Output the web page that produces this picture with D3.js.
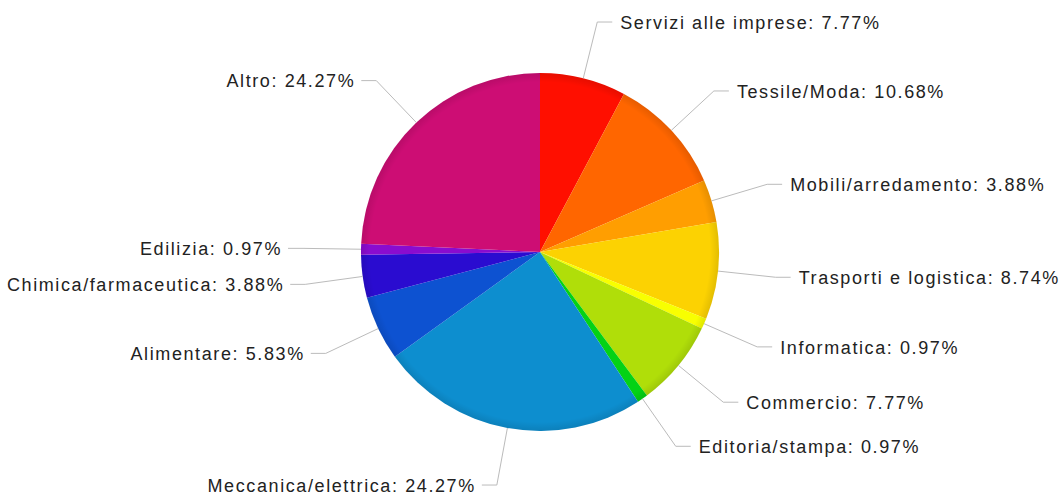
<!DOCTYPE html>
<html>
<head>
<meta charset="utf-8">
<script src="https://cdn.jsdelivr.net/npm/d3@7"></script>
<style>
  html, body { margin: 0; padding: 0; background: #fff; }
  svg { display: block; }
  .lbl { font-family: "Liberation Sans", Arial, sans-serif; font-size: 18px; letter-spacing: 1.6px; fill: #222; }
</style>
</head>
<body>
<svg id="chart" width="1062" height="496"></svg>
<script>
// Settori (percentuali)
const categories = [
  "Servizi alle imprese", "Tessile/Moda", "Mobili/arredamento", "Trasporti e logistica",
  "Informatica", "Commercio", "Editoria/stampa", "Meccanica/elettrica",
  "Alimentare", "Chimica/farmaceutica", "Edilizia", "Altro"
];
const values = [7.77, 10.68, 3.88, 8.74, 0.97, 7.77, 0.97, 24.27, 5.83, 3.88, 0.97, 24.27];
const colors = [
  "#FF0F00", "#FF6600", "#FF9E01", "#FCD202", "#F8FF01", "#B0DE09",
  "#04D215", "#0D8ECF", "#0D52D1", "#2A0CD0", "#8A0CCF", "#CD0D74"
];

const data = categories.map((c, i) => ({ name: c, value: values[i], color: colors[i] }));

const svg = d3.select("#chart");
const cx = 540, cy = 252, radius = 179;
const elbowR = 237;

const g = svg.append("g").attr("transform", `translate(${cx},${cy})`);

const pie = d3.pie().value(d => d.value).sort(null);
const arcs = pie(data);
const arc = d3.arc().innerRadius(0).outerRadius(radius);

// Spicchi
g.selectAll("path.slice")
  .data(arcs)
  .enter().append("path")
  .attr("class", "slice")
  .attr("d", arc)
  .attr("fill", d => d.data.color);

// Leggera ombreggiatura sul bordo
const defs = svg.append("defs");
const rg = defs.append("radialGradient").attr("id", "rim")
  .attr("cx", "50%").attr("cy", "50%").attr("r", "50%");
rg.append("stop").attr("offset", "0.95").attr("stop-color", "#000").attr("stop-opacity", 0);
rg.append("stop").attr("offset", "1").attr("stop-color", "#000").attr("stop-opacity", 0.1);
g.append("circle").attr("r", radius).attr("fill", "url(#rim)");

// Etichette con linee guida
const pt = (a, r) => [Math.sin(a) * r, -Math.cos(a) * r];

const lab = g.selectAll("g.lab").data(arcs).enter().append("g").attr("class", "lab");

lab.each(function(d) {
  const mid = (d.startAngle + d.endAngle) / 2;
  const right = Math.sin(mid) >= 0;
  const p0 = pt(mid, radius);
  const p1 = pt(mid, elbowR);
  const p2 = [p1[0] + (right ? 15 : -15), p1[1]];
  const sel = d3.select(this);
  sel.append("polyline")
    .attr("points", [p0, p1, p2].map(p => p.join(",")).join(" "))
    .attr("fill", "none")
    .attr("stroke", "#bbb")
    .attr("stroke-width", 1);
  sel.append("text")
    .attr("class", "lbl")
    .attr("x", p2[0] + (right ? 8 : -6))
    .attr("y", p2[1])
    .attr("dy", "0.38em")
    .attr("text-anchor", right ? "start" : "end")
    .text(`${d.data.name}: ${d.data.value.toFixed(2)}%`);
});
</script>
</body>
</html>
